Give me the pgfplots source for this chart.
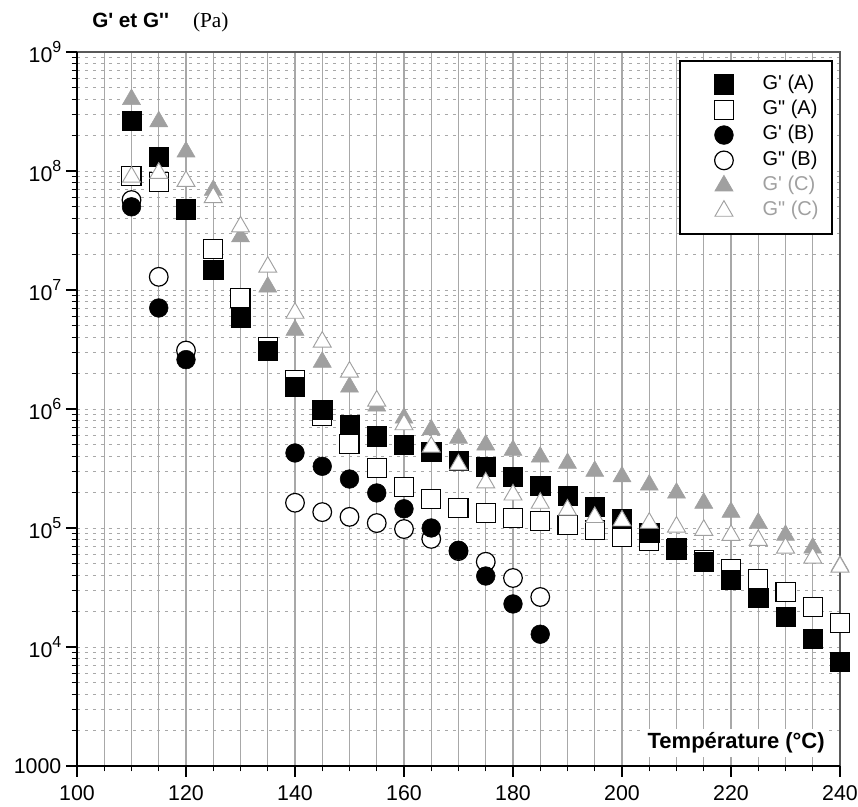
\documentclass[border=0pt]{standalone}
\usepackage{pgfplots}
\pgfplotsset{compat=1.18}
\usepackage{fontspec}
\setmainfont{Liberation Sans}
\newfontfamily\seriffont{Liberation Serif}
\usetikzlibrary{calc}
\definecolor{gridgray}{HTML}{A8A8A8}
\definecolor{cgray}{HTML}{A0A0A0}
\newcommand\tp[1]{10\raisebox{7pt}{\fontsize{12}{12}\selectfont #1}}
\newcommand\Gp{G\textquotesingle}
\newcommand\Gpp{G\textquotedbl}

\pgfplotstableread{
x y
110 9.1e7
115 8.1e7
120 4.7e7
125 2.2e7
130 8.6e6
135 3.3e6
140 1.75e6
145 8.8e5
150 5.1e5
155 3.2e5
160 2.2e5
165 1.75e5
170 1.47e5
175 1.34e5
180 1.21e5
185 1.15e5
190 1.06e5
195 9.6e4
200 8.4e4
205 7.8e4
210 6.6e4
215 5.4e4
220 4.5e4
225 3.7e4
230 2.9e4
235 2.17e4
240 1.59e4
}\GppA
\pgfplotstableread{
x y
110 2.63e8
115 1.31e8
120 4.8e7
125 1.47e7
130 5.8e6
135 3.1e6
140 1.53e6
145 9.8e5
150 7.35e5
155 5.9e5
160 4.98e5
165 4.35e5
170 3.7e5
175 3.26e5
180 2.7e5
185 2.25e5
190 1.86e5
195 1.5e5
200 1.2e5
205 9.1e4
210 6.8e4
215 5.2e4
220 3.66e4
225 2.58e4
230 1.79e4
235 1.17e4
240 7.5e3
}\GpA
\pgfplotstableread{
x y
110 5.7e7
115 1.29e7
120 3.1e6
140 1.63e5
145 1.36e5
150 1.24e5
155 1.1e5
160 9.8e4
165 8.1e4
170 6.4e4
175 5.2e4
180 3.8e4
185 2.63e4
}\GppB
\pgfplotstableread{
x y
110 5.0e7
115 7.06e6
120 2.6e6
140 4.27e5
145 3.3e5
150 2.58e5
155 1.97e5
160 1.45e5
165 1.0e5
170 6.5e4
175 3.95e4
180 2.3e4
185 1.28e4
}\GpB
\pgfplotstableread{
x y
110 4.0e8
115 2.6e8
120 1.45e8
125 6.9e7
130 2.8e7
135 1.06e7
140 4.6e6
145 2.48e6
150 1.53e6
155 1.06e6
160 8.4e5
165 6.7e5
170 5.7e5
175 5.0e5
180 4.5e5
185 3.95e5
190 3.5e5
195 3.0e5
200 2.7e5
205 2.3e5
210 1.97e5
215 1.62e5
220 1.36e5
225 1.1e5
230 8.7e4
235 6.8e4
240 4.8e4
}\GpC
\pgfplotstableread{
x y
110 8.9e7
115 9.6e7
120 8.2e7
125 6.0e7
130 3.4e7
135 1.56e7
140 6.4e6
145 3.66e6
150 2.05e6
155 1.17e6
160 7.4e5
165 4.8e5
170 3.4e5
175 2.4e5
180 1.9e5
185 1.62e5
190 1.42e5
195 1.23e5
200 1.15e5
205 1.1e5
210 1.02e5
215 9.6e4
220 8.7e4
225 7.9e4
230 6.8e4
235 5.6e4
240 4.7e4
}\GppC

\begin{document}
\begin{tikzpicture}
\begin{axis}[
  scale only axis, width=572.25pt, height=535.5pt,
  xmin=100, xmax=240, ymin=1000, ymax=1e9, ymode=log,
  xtick={100,105,...,240}, xticklabel=\empty,
  extra x ticks={100,120,140,160,180,200,220,240},
  extra x tick labels={100,120,140,160,180,200,220,240},
  extra x tick style={major tick length=8.25pt, grid=none,
    xticklabel style={yshift=-3pt}},
  ytick={1e3,1e4,1e5,1e6,1e7,1e8,1e9}, yticklabel=\empty,
  extra y ticks={1e3,1e4,1e5,1e6,1e7,1e8,1e9},
  extra y tick labels={1000,\tp{4},\tp{5},\tp{6},\tp{7},\tp{8},\tp{9}},
  extra y tick style={major tick length=8.25pt, grid=none},
  tick align=outside, tick pos=left,
  major tick length=4pt, minor tick length=4pt,
  every tick/.style={black, line width=0.8pt},
  ticklabel style={font=\fontsize{16}{16}\selectfont},
  xmajorgrids, ymajorgrids, yminorgrids,
  every major grid/.style={}, every minor grid/.style={},
  x grid style={gridgray, line width=0.8pt, solid},
  y grid style={gridgray, line width=0.6pt, dash pattern=on 2pt off 4pt},
  axis line style={black!65, line width=1.3pt},
  clip=false,
  legend cell align=left,
  legend image code/.code={\path[draw=none, fill=none] (0pt,-6pt) rectangle (40pt,6pt); \draw[#1] plot coordinates {(25pt,0pt)};},
  legend style={at={(rel axis cs:1,1)}, anchor=north east, xshift=-5.25pt, yshift=-6pt,
    draw=black, line width=1.6pt, inner xsep=8pt, inner ysep=8pt,
    column sep=12pt,
    nodes={inner sep=2pt, text height=11pt, text depth=4pt},
    font=\fontsize{15}{15}\selectfont},
]
\addplot[forget plot, only marks, mark=*, mark size=7pt, mark options={draw=black, fill=white, line width=0.9pt}] table {\GppB};
\addplot[forget plot, only marks, mark=*, mark size=7pt, mark options={draw=black, fill=black}] table {\GpB};
\addplot[forget plot, only marks, mark=square*, mark size=7.2pt, mark options={draw=black, fill=white, line width=0.9pt}] table {\GppA};
\addplot[forget plot, only marks, mark=square*, mark size=7.2pt, mark options={draw=black, fill=black}] table {\GpA};
\addplot[forget plot, only marks, mark=triangle*, mark size=7.8pt, mark options={draw=cgray, fill=cgray}] table {\GpC};
\addplot[forget plot, only marks, mark=triangle*, mark size=7.8pt, mark options={draw=cgray, fill=white, line width=0.7pt}] table {\GppC};

\addlegendimage{mark=square*, mark size=7.2pt, mark options={draw=black, fill=black, line width=0.5pt}}
\addlegendentry{\Gp{} (A)}
\addlegendimage{mark=square*, mark size=7.2pt, mark options={draw=black, fill=white, line width=0.9pt}}
\addlegendentry{\Gpp{} (A)}
\addlegendimage{mark=*, mark size=7pt, mark options={draw=black, fill=black, line width=0.5pt}}
\addlegendentry{\Gp{} (B)}
\addlegendimage{mark=*, mark size=7pt, mark options={draw=black, fill=white, line width=0.9pt}}
\addlegendentry{\Gpp{} (B)}
\addlegendimage{mark=triangle*, mark size=7.8pt, mark options={draw=cgray, fill=cgray, line width=0.5pt}}
\addlegendentry{\textcolor{cgray}{\Gp{} (C)}}
\addlegendimage{mark=triangle*, mark size=7.8pt, mark options={draw=cgray, fill=white, line width=0.7pt}}
\addlegendentry{\textcolor{cgray}{\Gpp{} (C)}}

\draw[black, line width=1.2pt] (rel axis cs:0,1) -- (rel axis cs:0,0) -- (rel axis cs:1,0);
\node[anchor=base east, fill=white, inner sep=2.5pt, font=\bfseries\fontsize{16.5}{16.5}\selectfont]
  at (rel axis cs:1,0) [xshift=-8.75pt, yshift=13pt] {Température (°C)};
\node[anchor=base west, inner sep=0pt] at (rel axis cs:0,1) [xshift=11.25pt, yshift=18pt]
  {{\bfseries\fontsize{15.5}{15.5}\selectfont G\textquotesingle{} et G\textquotesingle\textquotesingle}\hspace{18pt}{\seriffont\fontsize{16}{16}\selectfont (Pa)}};
\end{axis}
\pgfresetboundingbox
\path[use as bounding box] ($(current axis.south west)+(-57.75pt,-30.75pt)$) rectangle ($(current axis.north east)+(13.5pt,39pt)$);
\end{tikzpicture}
\end{document}
